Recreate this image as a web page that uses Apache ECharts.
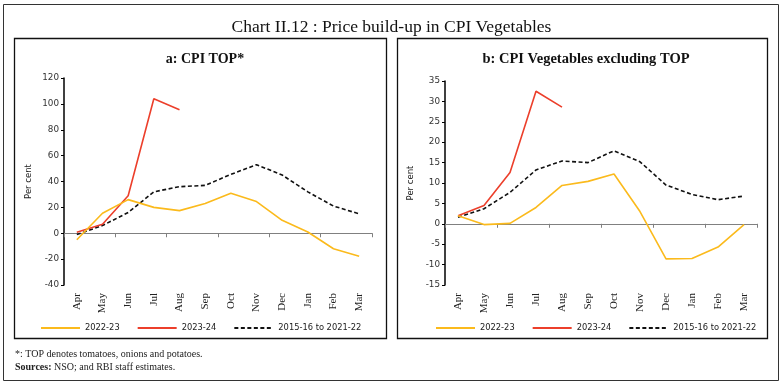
<!DOCTYPE html>
<html><head><meta charset="utf-8">
<script src="https://cdn.jsdelivr.net/npm/echarts@6/dist/echarts.min.js"></script>
<style>html,body{margin:0;padding:0;background:#fff}#c{width:783px;height:385px}</style>
</head><body><div id="c"></div>
<script>
const months = ['Apr','May','Jun','Jul','Aug','Sep','Oct','Nov','Dec','Jan','Feb','Mar'];
const seriesNames = ['2022-23','2023-24','2015-16 to 2021-22'];
// Panel a: CPI TOP
const topFY23 = [-5, 15.5, 26, 20, 17.5, 23, 31, 24.5, 10, 1, -12, -17.8];
const topFY24 = [0.8, 7, 29, 104, 95.5];
const topAvg  = [-1, 6, 16, 32, 36, 37, 45.5, 53, 45, 32, 21, 15];
// Panel b: CPI Vegetables excluding TOP
const exFY23 = [2.0, -0.2, 0.1, 4.0, 9.4, 10.4, 12.2, 3.0, -8.6, -8.5, -5.7, -0.2];
const exFY24 = [2.0, 4.5, 12.6, 32.5, 28.6];
const exAvg  = [1.6, 3.7, 7.7, 13.2, 15.4, 15.0, 17.9, 15.2, 9.5, 7.2, 5.9, 6.8];
const yTicksA = {min:-40, max:120, interval:20};
const yTicksB = {min:-15, max:35, interval:5};

const colors = ['#FBBA1C', '#EC3F2B', '#111111'];
const sans = 'DejaVu Sans';
const serif = 'Liberation Serif';

function xAxesFor(g){
  return [
    {type:'category', gridIndex:g, data:months, boundaryGap:true,
     axisLine:{onZero:true, lineStyle:{color:'#808080', width:1}},
     axisTick:{show:true, length:4, alignWithLabel:false, lineStyle:{color:'#808080'}},
     axisLabel:{show:false}, splitLine:{show:false}},
    {type:'category', gridIndex:g, data:months, boundaryGap:true, position:'bottom',
     axisLine:{show:false, onZero:false}, axisTick:{show:false},
     axisLabel:{show:true, rotate:90, margin:8, fontFamily:serif, fontSize:11, color:'#222', interval:0},
     splitLine:{show:false}}
  ];
}
function yAxisFor(g, t, gap){
  return {type:'value', gridIndex:g, min:t.min, max:t.max, interval:t.interval,
    name:'Per cent', nameLocation:'middle', nameGap:gap, nameRotate:90,
    nameTextStyle:{fontFamily:sans, fontSize:8.5, color:'#222'},
    axisLine:{show:true, lineStyle:{color:'#000', width:1.5}},
    axisTick:{show:true, length:3, lineStyle:{color:'#000'}},
    axisLabel:{fontFamily:sans, fontSize:8.8, color:'#333', margin:5},
    splitLine:{show:false}};
}
function lineSeries(name, data, xi, yi, idx){
  return {type:'line', name:name, data:data, xAxisIndex:xi, yAxisIndex:yi,
    symbol:'none', smooth:false, z:10-idx,
    lineStyle:{color:colors[idx], width:1.6, type: idx===2 ? [4,2.5] : 'solid'},
    itemStyle:{color:colors[idx]}};
}
function legendFor(left){
  return {left:left, top:319, orient:'horizontal', itemWidth:39, itemHeight:10, itemGap:17,
    data:seriesNames, selectedMode:false,
    itemStyle:{opacity:0},
    lineStyle:{width:2},
    textStyle:{fontFamily:sans, fontSize:8.3, color:'#222'}};
}

const chart = echarts.init(document.getElementById('c'), null, {renderer:'canvas'});
chart.setOption({
  animation:false,
  backgroundColor:'#fff',
  title:[
    {text:'Chart II.12 : Price build-up in CPI Vegetables', left:'center', top:13,
     textStyle:{fontFamily:serif, fontSize:17.5, fontWeight:'normal', color:'#111'}},
    {text:'a: CPI TOP*', left:200, textAlign:'center', top:47,
     textStyle:{fontFamily:serif, fontSize:14, fontWeight:'bold', color:'#111'}},
    {text:'b: CPI Vegetables excluding TOP', left:581, textAlign:'center', top:47,
     textStyle:{fontFamily:serif, fontSize:14.5, fontWeight:'bold', color:'#111'}}
  ],
  grid:[
    {left:64, top:78, right:411, bottom:100, containLabel:false},
    {left:445, top:81, right:26, bottom:100, containLabel:false}
  ],
  xAxis:[...xAxesFor(0), ...xAxesFor(1)],
  yAxis:[yAxisFor(0, yTicksA, 31), yAxisFor(1, yTicksB, 30)],
  legend:[legendFor(35), legendFor(430)],
  series:[
    lineSeries(seriesNames[0], topFY23, 0, 0, 0),
    lineSeries(seriesNames[1], topFY24, 0, 0, 1),
    lineSeries(seriesNames[2], topAvg, 0, 0, 2),
    lineSeries(seriesNames[0], exFY23, 2, 1, 0),
    lineSeries(seriesNames[1], exFY24, 2, 1, 1),
    lineSeries(seriesNames[2], exAvg, 2, 1, 2)
  ],
  graphic:[
    {type:'rect', shape:{x:3.5, y:4.5, width:775, height:376}, style:{fill:'none', stroke:'#333', lineWidth:1}, silent:true},
    {type:'rect', shape:{x:14.5, y:38.5, width:372, height:300}, style:{fill:'none', stroke:'#111', lineWidth:1.3}, silent:true},
    {type:'rect', shape:{x:397.5, y:38.5, width:370, height:300}, style:{fill:'none', stroke:'#111', lineWidth:1.3}, silent:true},
    {type:'text', left:15, top:349, style:{text:'*: TOP denotes tomatoes, onions and potatoes.', font:'10px "Liberation Serif"', fill:'#222'}},
    {type:'text', left:15, top:362, style:{rich:{b:{fontFamily:serif, fontSize:10, fontWeight:'bold', fill:'#222'}, n:{fontFamily:serif, fontSize:10, fill:'#222'}},
      text:'{b|Sources:}{n| NSO; and RBI staff estimates.}'}}
  ]
});
</script></body></html>
